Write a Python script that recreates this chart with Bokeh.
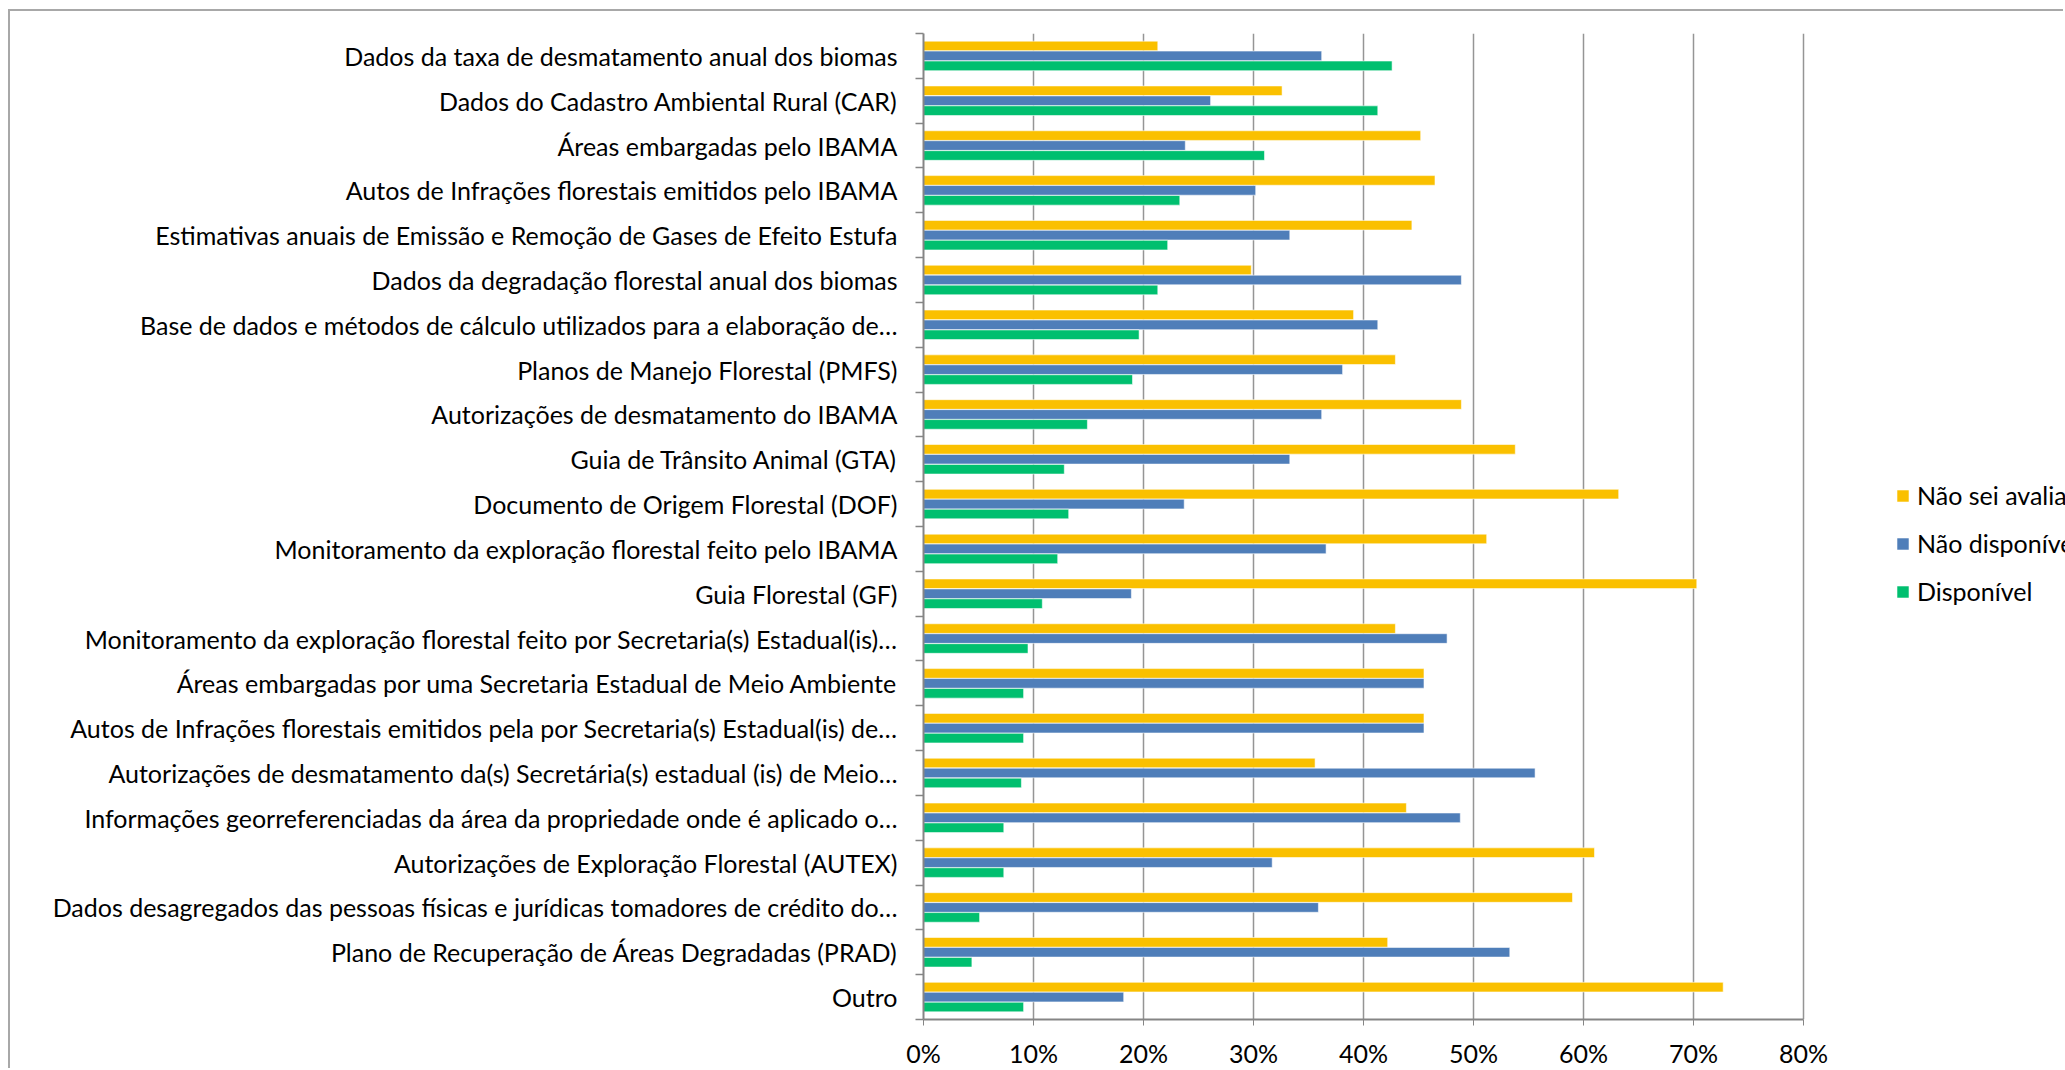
from bokeh.plotting import figure
from bokeh.models import (ColumnDataSource, Range1d, FixedTicker, NumeralTickFormatter,
                          Legend, LegendItem)
from bokeh.transform import dodge
from bokeh.embed import file_html
from bokeh.resources import INLINE

# Data sources, listed top to bottom as shown on the chart
categories = [
    "Dados da taxa de desmatamento anual dos biomas",
    "Dados do Cadastro Ambiental Rural (CAR)",
    "Áreas embargadas pelo IBAMA",
    "Autos de Infrações florestais emitidos pelo IBAMA",
    "Estimativas anuais de Emissão e Remoção de Gases de Efeito Estufa",
    "Dados da degradação florestal anual dos biomas",
    "Base de dados e métodos de cálculo utilizados para a elaboração de…",
    "Planos de Manejo Florestal (PMFS)",
    "Autorizações de desmatamento do IBAMA",
    "Guia de Trânsito Animal (GTA)",
    "Documento de Origem Florestal (DOF)",
    "Monitoramento da exploração florestal feito pelo IBAMA",
    "Guia Florestal (GF)",
    "Monitoramento da exploração florestal feito por Secretaria(s) Estadual(is)…",
    "Áreas embargadas por uma Secretaria Estadual de Meio Ambiente",
    "Autos de Infrações florestais emitidos pela por Secretaria(s) Estadual(is) de…",
    "Autorizações de desmatamento da(s) Secretária(s) estadual (is) de Meio…",
    "Informações georreferenciadas da área da propriedade onde é aplicado o…",
    "Autorizações de Exploração Florestal (AUTEX)",
    "Dados desagregados das pessoas físicas e jurídicas tomadores de crédito do…",
    "Plano de Recuperação de Áreas Degradadas (PRAD)",
    "Outro",
]

# Shares of answers, in percent
nao_sei_avaliar = [21.3, 32.6, 45.2, 46.5, 44.4, 29.8, 39.1, 42.9, 48.9, 53.8, 63.2,
                   51.2, 70.3, 42.9, 45.5, 45.5, 35.6, 43.9, 61.0, 59.0, 42.2, 72.7]
nao_disponivel = [36.2, 26.1, 23.8, 30.2, 33.3, 48.9, 41.3, 38.1, 36.2, 33.3, 23.7,
                  36.6, 18.9, 47.6, 45.5, 45.5, 55.6, 48.8, 31.7, 35.9, 53.3, 18.2]
disponivel = [42.6, 41.3, 31.0, 23.3, 22.2, 21.3, 19.6, 19.0, 14.9, 12.8, 13.2,
              12.2, 10.8, 9.5, 9.1, 9.1, 8.9, 7.3, 7.3, 5.1, 4.4, 9.1]

series_names = ["Não sei avaliar", "Não disponível", "Disponível"]
series_colors = ["#FAC000", "#4F7EB9", "#00BF6F"]
x_ticks = [0.0, 0.1, 0.2, 0.3, 0.4, 0.5, 0.6, 0.7, 0.8]

n = len(categories)
rows = [n - i - 0.5 for i in range(n)]          # row centres, first category on top
boundaries = [float(k) for k in range(n + 1)]   # tick marks between rows

source = ColumnDataSource(data=dict(
    y=rows,
    a=[v / 100 for v in nao_sei_avaliar],
    b=[v / 100 for v in nao_disponivel],
    c=[v / 100 for v in disponivel],
))

FONT = "Lato"
GRID = "#959595"
AXIS = "#858585"

# The plot area runs on to the right edge so the legend can sit beside the bars;
# the axis itself stops at 80 %.
p = figure(
    width=2055, height=1059,
    x_range=Range1d(0, 1.0382), y_range=Range1d(0, n),
    output_backend="svg", toolbar_location=None,
    min_border_left=913, min_border_right=0,
    min_border_top=22, min_border_bottom=47,
    background_fill_color="white", border_fill_color="white",
    outline_line_color=None,
    styles={"margin-left": "8px", "margin-top": "9px",
            "border-left": "2px solid #a8a8a8", "border-top": "2px solid #a8a8a8"},
)

bar_h = 0.215
offsets = [0.222, 0.0, -0.222]
renderers = []
for col, off, color in zip(["a", "b", "c"], offsets, series_colors):
    r = p.hbar(y=dodge("y", off, range=p.y_range), left=0, right=col, height=bar_h,
               source=source, fill_color=color, line_color="white", line_alpha=0.55,
               line_width=1)
    renderers.append(r)

# x axis: percentages
xa = p.xaxis[0]
xa.bounds = (x_ticks[0], x_ticks[-1])
xa.ticker = FixedTicker(ticks=x_ticks)
xa.formatter = NumeralTickFormatter(format="0%")
xa.axis_line_color = AXIS
xa.axis_line_width = 2
xa.major_tick_line_color = AXIS
xa.major_tick_out = 6
xa.major_tick_in = 0
xa.minor_tick_line_color = None
xa.major_label_standoff = 12
xa.major_label_text_font = FONT
xa.major_label_text_font_size = "25px"
xa.major_label_text_color = "black"

# y axis: labels at row centres, ticks on row boundaries
ya = p.yaxis[0]
ya.ticker = FixedTicker(ticks=rows, minor_ticks=boundaries)
ya.major_label_overrides = {y: lab for y, lab in zip(rows, categories)}
ya.axis_line_color = AXIS
ya.axis_line_width = 2
ya.major_tick_line_color = None
ya.major_tick_out = 0
ya.major_tick_in = 0
ya.minor_tick_line_color = AXIS
ya.minor_tick_line_width = 1.5
ya.minor_tick_out = 8
ya.minor_tick_in = 0
ya.major_label_standoff = 18
ya.major_label_text_font = FONT
ya.major_label_text_font_size = "25px"
ya.major_label_text_color = "black"

p.ygrid.grid_line_color = None
p.xgrid.grid_line_color = GRID
p.xgrid.grid_line_width = 1.5
p.xgrid.bounds = (x_ticks[0], x_ticks[-1])

legend = Legend(
    items=[LegendItem(label=name, renderers=[r]) for name, r in zip(series_names, renderers)],
    location=(972, 413),
    orientation="vertical",
    glyph_width=15, glyph_height=15,
    label_height=30, label_standoff=7,
    spacing=18, padding=0, margin=0,
    border_line_color=None, background_fill_alpha=0,
    label_text_font=FONT, label_text_font_size="25px",
    label_text_color="black",
)
p.add_layout(legend, "center")

open("out.html", "w").write(file_html(p, INLINE))
